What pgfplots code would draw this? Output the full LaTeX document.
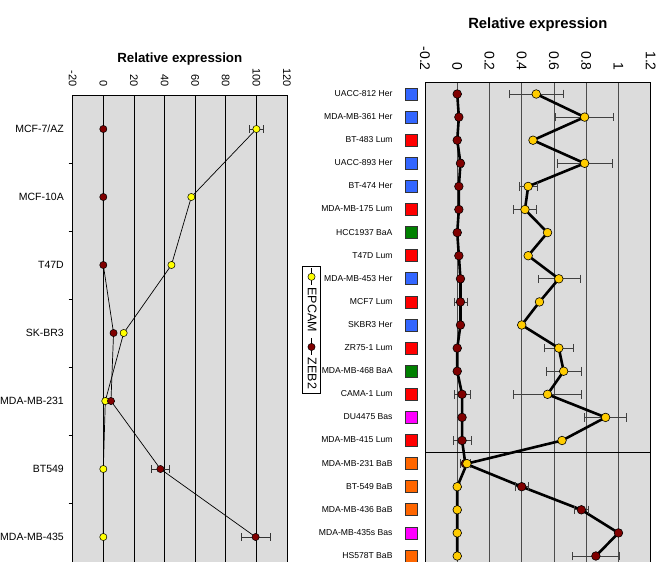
\documentclass[border=0pt]{standalone}
\usepackage{pgfplots}
\pgfplotsset{compat=1.18}
\usepackage{pgfplotstable}
\usepackage{fontspec}
\setmainfont{Liberation Sans}
\definecolor{bgc}{RGB}{220,220,220}
\definecolor{epl}{RGB}{255,255,0}
\definecolor{epr}{RGB}{255,204,0}
\definecolor{zeb}{RGB}{128,0,0}
\definecolor{her}{RGB}{51,102,255}
\definecolor{lum}{RGB}{255,0,0}
\definecolor{baa}{RGB}{0,128,0}
\definecolor{bas}{RGB}{255,0,255}
\definecolor{bab}{RGB}{255,102,0}
\newcommand\sq[1]{{\setlength\fboxsep{0pt}\setlength\fboxrule{0.7bp}\raisebox{-3.2bp}{\fcolorbox{black!80}{#1}{\rule{0pt}{11.3bp}\hspace{11.3bp}}}}}
\newcommand\lab[2]{#1\hspace{12.6bp}\sq{#2}}

\pgfplotstableread{
x y ex
100 0 4.6
57.5 1 0
44.5 2 0
13.3 3 0
1.3 4 0
0 5 0
0 6 0
}\leftepcam
\pgfplotstableread{
x y ex
0 0 0
0 1 0
0 2 0
6.7 3 0
5 4 0
37.3 5 5.8
99.5 6 9.4
}\leftzeb
\pgfplotstableread{
idx ep epe zb zbe
0 0.49 0.17 0.00 0
1 0.79 0.18 0.01 0
2 0.47 0 0.00 0
3 0.79 0.17 0.02 0.01
4 0.44 0.056 0.01 0
5 0.42 0.07 0.01 0
6 0.56 0 0.00 0
7 0.44 0 0.01 0
8 0.63 0.13 0.02 0.01
9 0.51 0 0.02 0.04
10 0.40 0 0.02 0.01
11 0.63 0.09 0.00 0
12 0.66 0.11 0.00 0
13 0.56 0.21 0.03 0.05
14 0.92 0.13 0.03 0
15 0.65 0 0.03 0.055
16 0.06 0 0.05 0.03
17 0.00 0 0.40 0.04
18 0.00 0 0.77 0.045
19 0.00 0 1.00 0
20 0.00 0 0.86 0.145
}\rightdata

\begin{document}
\begin{tikzpicture}
\begin{axis}[
  at={(72.7bp,-9bp)}, anchor=south west,
  scale only axis, width=214.3bp, height=476bp,
  xmin=-20, xmax=120, ymin=-0.5, ymax=6.5, y dir=reverse,
  axis background/.style={fill=bgc},
  axis line style={black, line width=0.8bp},
  xtick={-20,0,20,40,60,80,100,120},
  xticklabels={-20,0,20,40,60,80,100,120},
  xticklabel pos=upper,
  xticklabel style={rotate=-90, anchor=east, inner sep=0pt, font=\fontsize{11bp}{13bp}\selectfont},
  xticklabel shift=8bp,
  xmajorgrids, major grid style={black, line width=0.6bp},
  ytick={0,...,6},
  yticklabels={MCF-7/AZ,MCF-10A,T47D,SK-BR3,MDA-MB-231,BT549,MDA-MB-435},
  minor ytick={0.5,1.5,2.5,3.5,4.5,5.5},
  ytick pos=left, tick align=outside,
  major tick length=0pt, minor tick length=4bp,
  tick style={black, line width=0.8bp},
  yticklabel style={inner sep=0pt, anchor=east, font=\fontsize{10.5bp}{12bp}\selectfont},
  yticklabel shift=8.7bp,
]
\addplot[black, line width=0.7bp, mark=*, mark size=3.6bp,
  mark options={fill=epl, draw=black, line width=0.5bp},
  error bars/.cd, x dir=both, x explicit,
  error bar style={black!80, line width=0.7bp}]
  table[x=x, y=y, x error=ex] {\leftepcam};
\addplot[black, line width=0.7bp, mark=*, mark size=3.6bp,
  mark options={fill=zeb, draw=black, line width=0.5bp},
  error bars/.cd, x dir=both, x explicit,
  error bar style={black!80, line width=0.7bp}]
  table[x=x, y=y, x error=ex] {\leftzeb};
\end{axis}
\node[font=\bfseries\fontsize{13.3bp}{15bp}\selectfont, anchor=base] at (179.8bp,499.3bp) {Relative expression};

\begin{axis}[
  at={(425bp,-5.55bp)}, anchor=south west,
  scale only axis, width=225.7bp, height=485.1bp,
  xmin=-0.2, xmax=1.2, ymin=-0.5, ymax=20.5, y dir=reverse,
  axis background/.style={fill=bgc},
  axis line style={black, line width=0.8bp},
  xtick={-0.2,0,0.2,0.4,0.6,0.8,1,1.2},
  xticklabels={-0.2,0,0.2,0.4,0.6,0.8,1,1.2},
  xticklabel pos=upper,
  xticklabel style={rotate=-90, anchor=east, inner sep=0pt, font=\fontsize{14bp}{16bp}\selectfont},
  xticklabel shift=11.5bp,
  xmajorgrids, major grid style={black!70, line width=0.6bp},
  ytick={0,...,20},
  yticklabels={\lab{UACC-812 Her}{her},\lab{MDA-MB-361 Her}{her},\lab{BT-483 Lum}{lum},
    \lab{UACC-893 Her}{her},\lab{BT-474 Her}{her},\lab{MDA-MB-175 Lum}{lum},
    \lab{HCC1937 BaA}{baa},\lab{T47D Lum}{lum},\lab{MDA-MB-453 Her}{her},
    \lab{MCF7 Lum}{lum},\lab{SKBR3 Her}{her},\lab{ZR75-1 Lum}{lum},
    \lab{MDA-MB-468 BaA}{baa},\lab{CAMA-1 Lum}{lum},\lab{DU4475 Bas}{bas},
    \lab{MDA-MB-415 Lum}{lum},\lab{MDA-MB-231 BaB}{bab},\lab{BT-549 BaB}{bab},
    \lab{MDA-MB-436 BaB}{bab},\lab{MDA-MB-435s Bas}{bas},\lab{HS578T BaB}{bab}},
  ytick pos=left, major tick length=0pt,
  yticklabel style={inner sep=0pt, anchor=east, font=\fontsize{8.6bp}{10bp}\selectfont},
  yticklabel shift=7bp,
]
\addplot[black, line width=2.6bp, mark=*, mark size=4.3bp,
  mark options={fill=zeb, draw=black, line width=0.6bp},
  error bars/.cd, x dir=both, x explicit,
  error bar style={black!75, line width=0.8bp}]
  table[x=zb, y=idx, x error=zbe] {\rightdata};
\addplot[black, line width=2.6bp, mark=*, mark size=4.3bp,
  mark options={fill=epr, draw=black, line width=0.6bp},
  error bars/.cd, x dir=both, x explicit,
  error bar style={black!75, line width=0.8bp}]
  table[x=ep, y=idx, x error=epe] {\rightdata};
\draw[black, line width=0.8bp] (axis cs:-0.2,15.5) -- (axis cs:1.2,15.5);
\end{axis}
\node[font=\bfseries\fontsize{14.8bp}{16bp}\selectfont, anchor=base] at (537.8bp,533.7bp) {Relative expression};

\begin{scope}[shift={(311.5bp,232.5bp)}, rotate=-90, transform shape]
\begin{axis}[
  at={(0,0)}, anchor=center, hide axis,
  scale only axis, width=10bp, height=10bp,
  xmin=0, xmax=1, ymin=0, ymax=1,
  legend style={at={(0.5,0.5)}, anchor=center, draw=black, fill=white,
    font=\fontsize{12.5bp}{14bp}\selectfont, inner sep=2bp,
    /tikz/every even column/.append style={column sep=4bp}},
  legend columns=-1,
]
\addlegendimage{black, line width=0.7bp, mark=*, mark size=3.6bp,
  mark options={fill=epl, draw=black, line width=0.5bp}}
\addlegendentry{EPCAM}
\addlegendimage{black, line width=0.7bp, mark=*, mark size=3.6bp,
  mark options={fill=zeb, draw=black, line width=0.5bp}}
\addlegendentry{ZEB2}
\end{axis}
\end{scope}
\pgfresetboundingbox
\useasboundingbox (0,0) rectangle (667bp,562bp);
\end{tikzpicture}
\end{document}
